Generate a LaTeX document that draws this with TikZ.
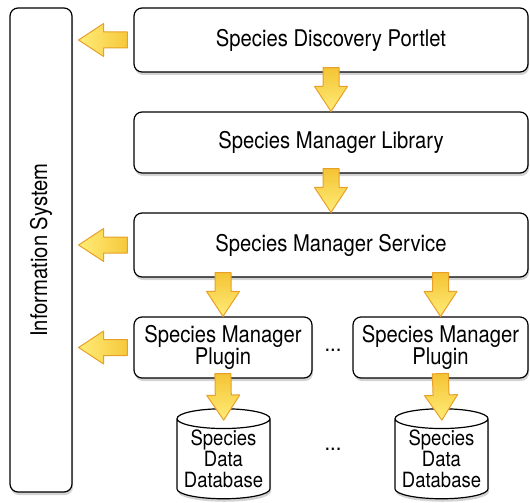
\documentclass[tikz,border=0pt]{standalone}
\usepackage{fontspec}
\setmainfont{TeX Gyre Heros}[FakeStretch=0.88]
\usetikzlibrary{calc,shapes.geometric,shadows}
\definecolor{arrowline}{RGB}{232,160,40}
\definecolor{arrowdark}{RGB}{244,196,52}
\definecolor{arrowlight}{RGB}{255,236,120}
\tikzset{fat start/.store in=\fatstart, fat end/.store in=\fatend, fat start=0pt, fat end=0pt}
\tikzstyle{box} = [draw=black, line width=1.2pt, rounded corners=8pt, fill=white, inner sep=0pt, align=center,
  drop shadow={shadow xshift=1pt, shadow yshift=-3pt, opacity=0.35}, font=\fontsize{23}{21}\selectfont]
\tikzstyle{db} = [box, cylinder, shape border rotate=90, aspect=0.25, rounded corners=0pt, font=\fontsize{21}{21}\selectfont,
  execute at begin node={\rule{0pt}{40pt}}]
\tikzstyle{fat} = [draw=arrowline, line width=1pt, line join=round, to path={
  let \p1=(\tikztostart), \p2=(\tikztotarget),
      \n1={atan2(\y2-\y1,\x2-\x1)}, \n2={veclen(\x2-\x1,\y2-\y1)},
      \n3={cos(\n1)}, \n4={sin(\n1)} in
  ({\x1+(\fatstart)*\n3-(8)*\n4},{\y1+(\fatstart)*\n4+(8)*\n3})
  -- ({\x1+(\n2-\fatend-25)*\n3-(8)*\n4},{\y1+(\n2-\fatend-25)*\n4+(8)*\n3})
  -- ({\x1+(\n2-\fatend-25)*\n3-(16.5)*\n4},{\y1+(\n2-\fatend-25)*\n4+(16.5)*\n3})
  -- ({\x1+(\n2-\fatend)*\n3},{\y1+(\n2-\fatend)*\n4})
  -- ({\x1+(\n2-\fatend-25)*\n3+(16.5)*\n4},{\y1+(\n2-\fatend-25)*\n4-(16.5)*\n3})
  -- ({\x1+(\n2-\fatend-25)*\n3+(8)*\n4},{\y1+(\n2-\fatend-25)*\n4-(8)*\n3})
  -- ({\x1+(\fatstart)*\n3+(8)*\n4},{\y1+(\fatstart)*\n4-(8)*\n3}) -- cycle}]
\tikzstyle{fatdown} = [fat, top color=arrowdark, bottom color=arrowlight, fat start=-5pt]
\tikzstyle{fatleft} = [fat, left color=arrowlight, right color=arrowdark, fat start=6pt, fat end=6pt]

\begin{document}
\begin{tikzpicture}[x=1pt,y=-1pt]
    \useasboundingbox (0,0) rectangle (530,503);
    \node[box, minimum width=62pt, minimum height=484pt] (info) at (41,250) {};
    \node[rotate=90, font=\fontsize{23}{21}\selectfont] (infolabel) at (info.center) {Information System};
    \node[box, minimum width=394pt, minimum height=64pt] (portlet) at (331,40) {Species Discovery Portlet};
    \node[box, minimum width=394pt, minimum height=61pt] (library) at (331,142.5) {Species Manager Library};
    \node[box, minimum width=394pt, minimum height=64pt] (service) at (331,245) {Species Manager Service};
    \node[box, minimum width=178pt, minimum height=61pt] (plugina) at (223,347.5) {Species Manager\\Plugin};
    \node[box, minimum width=175pt, minimum height=61pt] (pluginb) at (440.5,347.5) {Species Manager\\Plugin};
    \node[db, minimum width=93pt, minimum height=90pt] (dba) at (223.5,459) {Species\\Data\\Database};
    \node[db, minimum width=93pt, minimum height=90pt] (dbb) at (441.5,459) {Species\\Data\\Database};
    \node[font=\fontsize{23}{21}\selectfont] (dotsa) at (333,350) {...};
    \node[font=\fontsize{23}{21}\selectfont] (dotsb) at (333,449) {...};
    % flow down the stack
    \draw[fatdown] (portlet.south) to (library.north);
    \draw[fatdown] (library.south) to (service.north);
    \draw[fatdown] (plugina.north |- service.south) to (plugina.north);
    \draw[fatdown] (pluginb.north |- service.south) to (pluginb.north);
    \draw[fatdown, fat end=-12pt] (plugina.south) to (dba.north);
    \draw[fatdown, fat end=-12pt] (pluginb.south) to (dbb.north);
    % registration with the information system
    \draw[fatleft] (portlet.west) to (info.east |- portlet.west);
    \draw[fatleft] (service.west) to (info.east |- service.west);
    \draw[fatleft] (plugina.west) to (info.east |- plugina.west);
\end{tikzpicture}
\end{document}
